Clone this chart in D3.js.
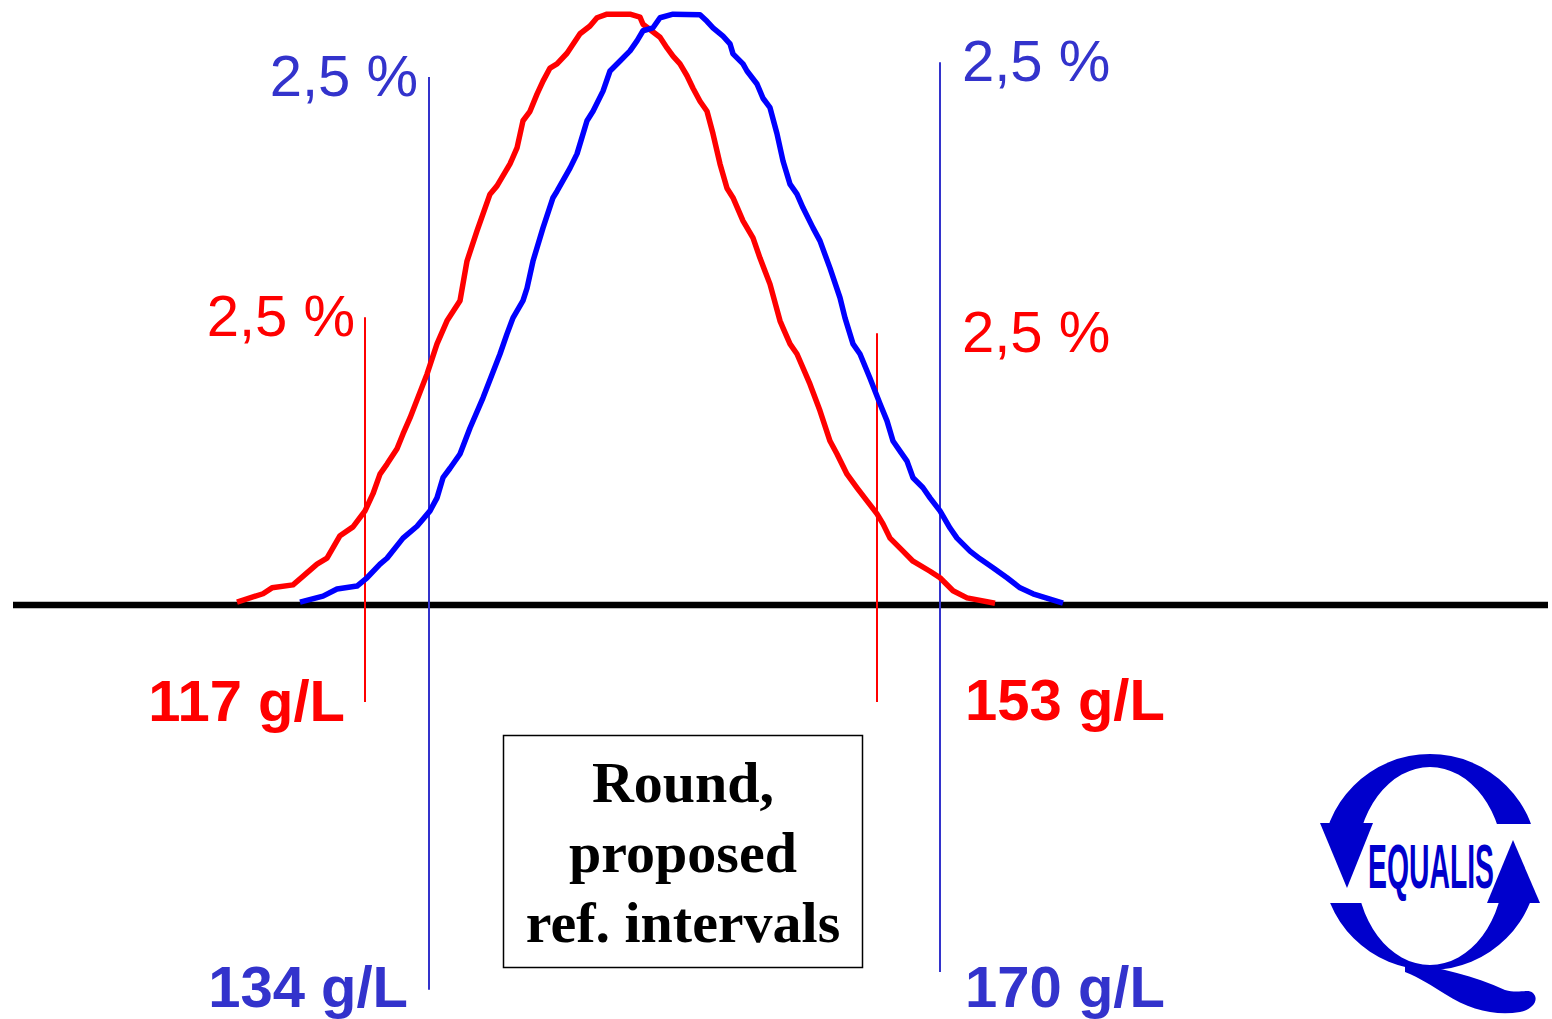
<!DOCTYPE html>
<html>
<head>
<meta charset="utf-8">
<script src="https://cdn.jsdelivr.net/npm/d3@7"></script>
<style>
  html, body { margin: 0; padding: 0; background: #fff; }
  svg { display: block; }
</style>
</head>
<body>
<div id="chart"></div>
<script>
// curves: x in relative position units, y in % of peak height
const redX = [23.7, 26.3, 27.2, 29.3, 30.0, 31.7, 32.7, 34.0, 35.3, 36.5, 37.3, 38.0, 38.7, 39.7, 40.3, 41.0,
  42.7, 43.7, 44.7, 46.0, 46.7, 47.7, 49.0, 49.7, 51.0, 51.7, 52.3, 53.0, 53.7, 54.3, 55.0, 55.7, 56.7, 58.0,
  59.0, 59.7, 60.7, 63.0, 64.0, 64.3, 66.0, 66.7, 67.3, 68.0, 68.7, 69.3, 70.0, 70.7, 71.3, 72.0, 72.7, 73.3,
  74.3, 75.3, 76.0, 77.0, 78.0, 78.3, 79.0, 79.7, 81.0, 82.0, 83.0, 83.7, 84.7, 85.7, 86.7, 87.7, 88.3, 89.0,
  90.3, 91.3, 93.0, 94.0, 95.3, 96.7, 99.5];
const redY = [0.5, 1.9, 2.9, 3.4, 4.4, 6.9, 7.9, 11.7, 13.2, 15.9, 18.8, 22.1, 23.8, 26.4, 28.9, 31.6,
  39.0, 44.1, 48.0, 51.4, 58.1, 63.2, 69.4, 70.8, 74.5, 77.2, 81.8, 83.4, 86.3, 88.5, 90.7, 91.4, 93.2, 96.5,
  97.8, 99.2, 99.8, 99.8, 99.3, 98.1, 95.9, 94.1, 92.7, 91.4, 89.4, 87.3, 85.1, 83.4, 79.6, 74.5, 70.4, 68.8,
  64.9, 62.0, 58.6, 54.2, 48.0, 46.8, 44.1, 42.4, 37.3, 32.8, 27.7, 25.5, 22.1, 19.8, 17.6, 15.4, 13.7, 11.3,
  9.1, 7.4, 5.7, 4.6, 2.4, 1.2, 0.3];

const blueX = [30.0, 32.3, 33.7, 35.7, 36.7, 38.0, 38.7, 40.3, 41.7, 43.0, 43.7, 44.3, 45.0, 46.0, 47.0, 48.3,
  50.0, 50.7, 51.3, 52.3, 52.7, 53.3, 54.3, 55.3, 55.7, 57.0, 57.7, 58.7, 59.3, 60.3, 61.0, 62.0, 63.0, 63.7,
  64.3, 65.3, 66.0, 67.3, 70.0, 70.7, 71.3, 72.3, 73.0, 73.3, 74.3, 74.7, 75.7, 76.3, 77.0, 77.7, 78.3, 79.0,
  79.7, 80.3, 81.3, 82.0, 83.0, 84.0, 84.5, 85.3, 86.0, 87.0, 88.0, 88.7, 89.3, 90.0, 90.7, 91.3, 92.3, 93.0,
  94.0, 95.0, 95.7, 97.0, 98.0, 99.3, 100.7, 102.0, 103.3, 105.0, 106.3];
const blueY = [0.5, 1.5, 2.7, 3.2, 4.6, 6.9, 7.9, 11.3, 13.3, 15.9, 18.1, 21.5, 23.1, 25.5, 29.9, 35.0,
  42.4, 45.8, 48.5, 51.4, 53.5, 58.1, 63.7, 68.8, 69.9, 73.8, 76.2, 81.8, 83.4, 86.8, 90.2, 91.9, 93.6, 95.3,
  97.0, 97.5, 99.2, 99.8, 99.7, 98.6, 97.5, 96.1, 94.8, 93.1, 91.4, 90.2, 88.0, 85.6, 84.0, 79.6, 75.0, 71.1,
  69.4, 67.1, 63.7, 61.5, 56.9, 51.9, 48.5, 44.1, 42.4, 38.3, 34.0, 31.1, 27.7, 26.0, 24.3, 21.5, 19.8, 18.1,
  15.9, 13.0, 11.3, 9.1, 7.8, 6.3, 4.6, 2.9, 1.9, 1.0, 0.3];

// 2.5 % cut-off markers
const markerSeries = ['red', 'red', 'blue', 'blue'];
const markerX = [36.5, 87.7, 42.9, 94.0];
const markerTop = [48.6, 45.9, 89.2, 91.7];
const markerBottom = [-16.4, -16.4, -65.0, -62.0];
const markerText = ['117 g/L', '153 g/L', '134 g/L', '170 g/L'];
const pctText = '2,5 %';
const boxLines = ['Round,', 'proposed', 'ref. intervals'];

const W = 1552, H = 1019;
const colors = { red: '#ff0000', blue: '#0000ff' };
const markColors = { red: '#ff0000', blue: '#3333cc' };

const x = d3.scaleLinear().domain([0, 155.2]).range([0, W]);
const y = d3.scaleLinear().domain([0, 100]).range([605, 13]);

const svg = d3.select('#chart').append('svg')
  .attr('width', W).attr('height', H)
  .style('font-family', '"Liberation Sans", Arial, sans-serif');

// baseline
svg.append('line')
  .attr('x1', x(1.3)).attr('x2', x(154.8))
  .attr('y1', y(0)).attr('y2', y(0))
  .attr('stroke', '#000').attr('stroke-width', 6.5);

// vertical cut-off lines
const markers = markerX.map((v, i) => ({ s: markerSeries[i], x: v, top: markerTop[i], bottom: markerBottom[i], text: markerText[i] }));
svg.selectAll('line.mark').data(markers).enter().append('line')
  .classed('mark', true)
  .attr('x1', d => x(d.x)).attr('x2', d => x(d.x))
  .attr('y1', d => y(d.top)).attr('y2', d => y(d.bottom))
  .attr('stroke', d => markColors[d.s]).attr('stroke-width', 2);

// curves
const line = d3.line().x(d => x(d[0])).y(d => y(d[1]));
const curves = [
  { s: 'red', pts: redX.map((v, i) => [v, redY[i]]) },
  { s: 'blue', pts: blueX.map((v, i) => [v, blueY[i]]) }
];
svg.selectAll('path.curve').data(curves).enter().append('path')
  .classed('curve', true)
  .attr('d', d => line(d.pts))
  .attr('fill', 'none')
  .attr('stroke', d => colors[d.s])
  .attr('stroke-width', 5.5)
  .attr('stroke-linejoin', 'round');

// "2,5 %" labels: left ones hug their line, right ones share a column
const pctLayout = [
  { anchor: 'end', dx: -10 },
  { anchor: 'start', dx: 0, col: 96.2 },
  { anchor: 'end', dx: -11 },
  { anchor: 'start', dx: 0, col: 96.2 }
];
svg.selectAll('text.pct').data(markers).enter().append('text')
  .classed('pct', true)
  .attr('x', (d, i) => pctLayout[i].col ? x(pctLayout[i].col) : x(d.x) + pctLayout[i].dx)
  .attr('y', d => y(d.top) + 19)
  .attr('text-anchor', (d, i) => pctLayout[i].anchor)
  .attr('fill', d => markColors[d.s])
  .style('font-size', '58px')
  .text(pctText);

// value labels
const valLayout = [
  { anchor: 'end', dx: -20, y: 721 },
  { anchor: 'start', col: 96.5, y: 720 },
  { anchor: 'end', dx: -21, y: 1007 },
  { anchor: 'start', col: 96.5, y: 1007 }
];
svg.selectAll('text.val').data(markers).enter().append('text')
  .classed('val', true)
  .attr('x', (d, i) => valLayout[i].col ? x(valLayout[i].col) : x(d.x) + valLayout[i].dx)
  .attr('y', (d, i) => valLayout[i].y)
  .attr('text-anchor', (d, i) => valLayout[i].anchor)
  .attr('fill', d => markColors[d.s])
  .style('font-size', '58px')
  .style('font-weight', 'bold')
  .text(d => d.text);

// caption box
const box = svg.append('g');
box.append('rect')
  .attr('x', 503.5).attr('y', 735.5).attr('width', 359).attr('height', 232)
  .attr('fill', '#fff').attr('stroke', '#000').attr('stroke-width', 1.5);
box.selectAll('text').data(boxLines).enter().append('text')
  .attr('x', 683)
  .attr('y', (d, i) => 802 + i * 70)
  .attr('text-anchor', 'middle')
  .style('font-family', '"Liberation Serif", "Times New Roman", serif')
  .style('font-weight', 'bold')
  .style('font-size', '58px')
  .text(d => d);

// EQUALIS logo (decoration)
const logoColor = '#0000cc';
const logo = svg.append('g');
const defs = svg.append('defs');
const clip = defs.append('clipPath').attr('id', 'ringclip');
clip.append('rect').attr('x', 1300).attr('y', 740).attr('width', 260).attr('height', 84);
clip.append('rect').attr('x', 1300).attr('y', 903).attr('width', 260).attr('height', 120);

function ell(cx, cy, rx, ry) {
  return `M${cx - rx},${cy}a${rx},${ry} 0 1,0 ${2 * rx},0a${rx},${ry} 0 1,0 ${-2 * rx},0Z`;
}
logo.append('path')
  .attr('d', ell(1430, 862, 108, 108) + ell(1430, 866, 74, 99))
  .attr('fill-rule', 'evenodd')
  .attr('fill', logoColor)
  .attr('clip-path', 'url(#ringclip)');
// arrowheads
logo.append('path').attr('d', 'M1320,823L1373,823L1347,888Z').attr('fill', logoColor);
logo.append('path').attr('d', 'M1487,903L1540,903L1513,840Z').attr('fill', logoColor);
// tail of the Q
logo.append('path')
  .attr('d', 'M1405,962C1440,968 1475,976 1505,990C1520,994 1528,988 1533,993C1540,1000 1532,1010 1520,1012C1495,1016 1470,1010 1445,994C1432,986 1420,978 1405,972Z')
  .attr('fill', logoColor);
logo.append('text')
  .attr('transform', 'translate(1368,888) scale(0.45,1)')
  .attr('fill', logoColor)
  .style('font-family', '"Liberation Sans", sans-serif')
  .style('font-weight', 'bold')
  .style('font-size', '63px')
  .text('EQUALIS');
</script>
</body>
</html>
